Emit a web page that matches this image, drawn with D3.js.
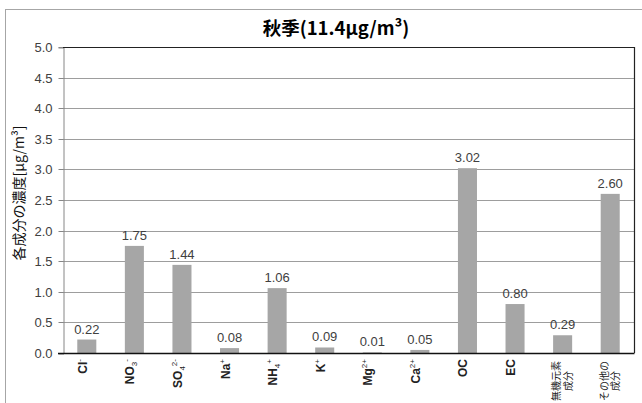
<!DOCTYPE html>
<html><head><meta charset="utf-8">
<script src="https://cdn.jsdelivr.net/npm/d3@7"></script>
<style>
html,body{margin:0;padding:0;background:#fff;}
svg{display:block;}
</style></head>
<body>
<script>
const title = "秋季(11.4μg/m³)";
const yTitle = "各成分の濃度[μg/m³]";
const categories = ["Cl^-","NO_3^-","SO_4^{2-}","Na^+","NH_4^+","K^+","Mg^{2+}","Ca^{2+}","OC","EC","無機元素\n成分","その他の\n成分"];
const values = [0.22,1.75,1.44,0.08,1.06,0.09,0.01,0.05,3.02,0.80,0.29,2.60];
const yTicks = [0,0.5,1.0,1.5,2.0,2.5,3.0,3.5,4.0,4.5,5.0];

const W = 642, H = 403;
const m = {left:63, right:634, top:47, bottom:353};
const svg = d3.select("body").append("svg").attr("width",W).attr("height",H);
const font = "'Liberation Sans', Arial, 'Noto Sans CJK JP', sans-serif";

// outer frame
svg.append("rect").attr("x",5.5).attr("y",9.5).attr("width",700).attr("height",500)
  .attr("fill","none").attr("stroke","#a6a6a6").attr("stroke-width",1);

const x = d3.scaleBand().domain(d3.range(categories.length)).range([m.left,m.right]).paddingInner(0.6).paddingOuter(0.3);
const y = d3.scaleLinear().domain([0,5]).range([m.bottom,m.top]);

// gridlines
svg.append("g").selectAll("line").data(yTicks.slice(1,-1)).join("line")
  .attr("x1",m.left).attr("x2",m.right).attr("y1",d=>Math.round(y(d))+0.5).attr("y2",d=>Math.round(y(d))+0.5)
  .attr("stroke","#9d9d9d").attr("stroke-width",1);

// y axis
const yAxis = d3.axisLeft(y).tickValues(yTicks).tickFormat(d3.format(".1f")).tickSize(5).tickPadding(6);
const gy = svg.append("g").attr("transform",`translate(${m.left+0.5},0.5)`).call(yAxis);
gy.select(".domain").attr("stroke","#868686");
gy.selectAll(".tick line").attr("stroke","#868686");
gy.selectAll("text").attr("font-family",font).attr("font-size",13).attr("fill","#404040");
gy.selectAll(".tick").attr("transform",d=>`translate(0,${Math.round(y(d))})`);

// plot frame top & right
svg.append("line").attr("x1",m.left).attr("x2",m.right+0.5).attr("y1",m.top+0.5).attr("y2",m.top+0.5).attr("stroke","#222").attr("stroke-width",1.2);
svg.append("line").attr("x1",m.right+0.5).attr("x2",m.right+0.5).attr("y1",m.top).attr("y2",m.bottom).attr("stroke","#222").attr("stroke-width",1.2);

// bars
svg.append("g").selectAll("rect").data(values).join("rect")
  .attr("x",(d,i)=>x(i)).attr("width",x.bandwidth())
  .attr("y",d=>y(d)).attr("height",d=>y(0)-y(d)).attr("fill","#a6a6a6");

// x axis (bottom)
svg.append("line").attr("x1",m.left-5).attr("x2",m.right+0.5).attr("y1",m.bottom+0.5).attr("y2",m.bottom+0.5)
  .attr("stroke","#111").attr("stroke-width",1.4);

// data labels
svg.append("g").selectAll("text").data(values).join("text")
  .attr("x",(d,i)=>x(i)+x.bandwidth()/2).attr("y",d=>y(d)-6)
  .attr("text-anchor","middle").attr("font-family",font).attr("font-size",13).attr("fill","#404040")
  .text(d=>d3.format(".2f")(d));

// x labels
function parse(s){
  const re=/(_\{[^}]*\}|_.|\^\{[^}]*\}|\^.|[^_^]+)/g; const out=[]; let mm;
  while((mm=re.exec(s))){const t=mm[0];
    if(t[0]==="_"||t[0]==="^"){let v=t.slice(1); if(v[0]==="{") v=v.slice(1,-1); out.push({t:v,k:t[0]==="_"?"sub":"sup"});}
    else out.push({t,k:"n"});}
  return out;
}
const xl = svg.append("g");
categories.forEach((c,i)=>{
  const cx = x(i)+x.bandwidth()/2;
  if(c.includes("\n")){
    const lines=c.split("\n");
    const t = xl.append("text").attr("transform",`translate(${cx},381) rotate(-90)`)
      .attr("text-anchor","middle").attr("font-family","'Noto Sans CJK JP', sans-serif").attr("font-size",10).attr("fill","#222");
    lines.forEach((ln,j)=>{
      t.append("tspan").attr("x",0).attr("y",(j-(lines.length-1)/2)*11.5).attr("dy","0.35em").text(ln);
    });
  } else {
    const t = xl.append("text").attr("transform",`translate(${cx},359) rotate(-90)`)
      .attr("text-anchor","end").attr("dy","0.36em").attr("font-family",font).attr("font-size",12).attr("font-weight","bold").attr("fill","#222");
    let shift=0;
    parse(c).forEach(seg=>{
      const target = seg.k==="sub"?3:seg.k==="sup"?-5:0;
      const ts=t.append("tspan").attr("dy",target-shift).text(seg.t);
      if(seg.k!=="n") ts.attr("font-size",8).attr("font-weight","normal");
      shift=target;
    });
  }
});

// y title
svg.append("text").attr("transform","translate(19,193) rotate(-90)")
  .attr("text-anchor","middle").attr("dy","0.35em")
  .attr("font-family","'Noto Sans CJK JP', sans-serif").attr("font-size",14).attr("fill","#111")
  .text(yTitle);

// title
svg.append("text").attr("x",336).attr("y",29).attr("dy","0.35em").attr("text-anchor","middle")
  .attr("font-family","'Noto Sans CJK JP', sans-serif").attr("font-weight","bold").attr("font-size",18.5).attr("fill","#000")
  .text(title);
</script>
</body></html>
